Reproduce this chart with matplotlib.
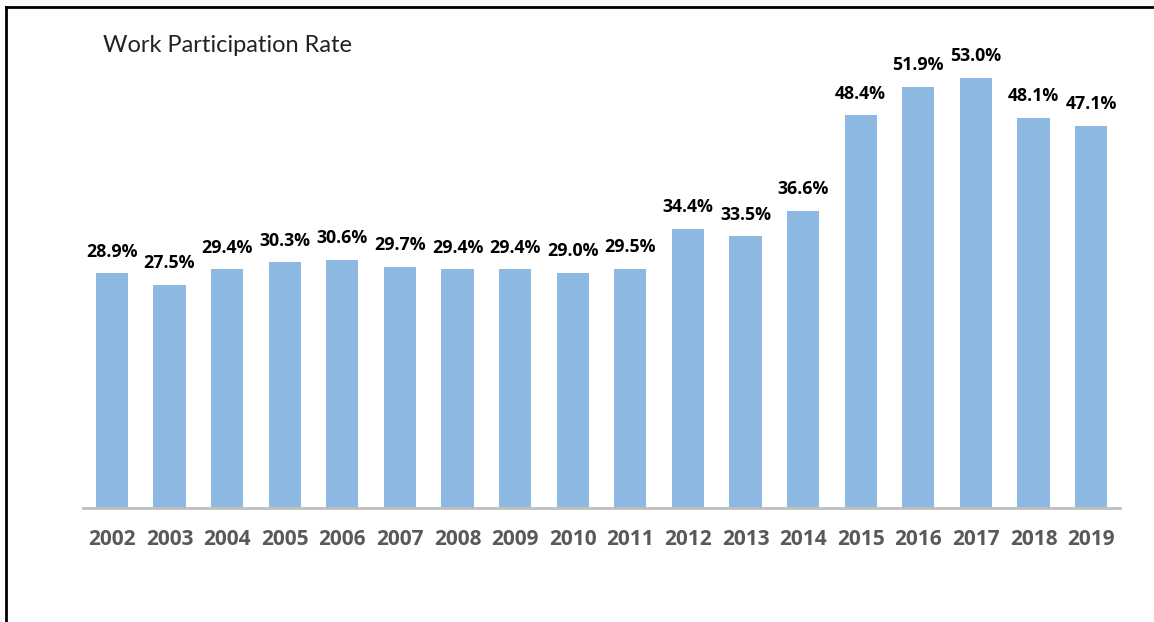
import matplotlib
matplotlib.use("Agg")
import matplotlib.pyplot as plt
from matplotlib.lines import Line2D

years = [str(y) for y in range(2002, 2020)]
rates = [28.9, 27.5, 29.4, 30.3, 30.6, 29.7, 29.4, 29.4, 29.0, 29.5,
         34.4, 33.5, 36.6, 48.4, 51.9, 53.0, 48.1, 47.1]

fig = plt.figure(figsize=(11.54, 6.22), dpi=100)
ax = fig.add_axes([83 / 1154, 1 - 508 / 622, (1120 - 83) / 1154, (508 - 21) / 622])

x = list(range(len(years)))
bars = ax.bar(x, rates, width=0.56, color='#8DB8E2')

for xi, v in zip(x, rates):
    ax.annotate(f'{v:.1f}%', (xi, v), xytext=(0, 9), textcoords='offset points',
                ha='center', va='bottom', fontsize=12.8, fontweight='bold',
                family='Open Sans', color='black')

ax.set_xlim(-0.5, len(years) - 0.5)
ax.set_ylim(0, 60)
ax.set_xticks(x)
ax.set_xticklabels(years, fontsize=15, fontweight='bold', family='Open Sans', color='#595959')
ax.tick_params(axis='x', length=0, pad=15)
ax.set_yticks([])
for s in ['left', 'right', 'top']:
    ax.spines[s].set_visible(False)
ax.spines['bottom'].set_color('#BFBFBF')
ax.spines['bottom'].set_linewidth(2)

fig.text(103 / 1154, 1 - 45 / 622, 'Work Participation Rate', fontsize=17,
         family='Lato', color='#222222', va='center', ha='left')

# frame lines (top and left)
fig.add_artist(Line2D([6 / 1154, 1], [1 - 7 / 622, 1 - 7 / 622], transform=fig.transFigure,
                      color='black', linewidth=2))
fig.add_artist(Line2D([6 / 1154, 6 / 1154], [0, 1 - 7 / 622], transform=fig.transFigure,
                      color='black', linewidth=2))

fig.savefig('out.png', dpi=100)
